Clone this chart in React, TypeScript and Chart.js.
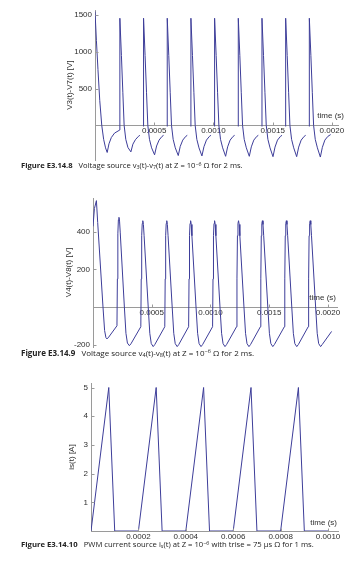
import React, { useEffect, useRef } from "react";
import { Chart, registerables } from "chart.js";
Chart.register(...registerables);

// ---------- Figure E3.14.8 : v3(t)-v7(t) ----------
const v37Time = [
  0, 0.000012, 0.000025, 0.00004, 0.000057, 0.000073, 0.000089, 0.000103, 0.000118, 0.000138, 0.000165, 0.00021,
  0.00021, 0.000223, 0.000235, 0.000246, 0.00026, 0.000278, 0.000303, 0.00032, 0.000341, 0.000366, 0.000379, 0.00038,
  0.00041, 0.00041, 0.000423, 0.000435, 0.000446, 0.00046, 0.000478, 0.000503, 0.00052, 0.000541, 0.000566, 0.000579, 0.00058,
  0.00061, 0.00061, 0.000623, 0.000635, 0.000646, 0.00066, 0.000678, 0.000703, 0.00072, 0.000741, 0.000766, 0.000779, 0.00078,
  0.00081, 0.00081, 0.000823, 0.000835, 0.000846, 0.00086, 0.000878, 0.000903, 0.00092, 0.000941, 0.000966, 0.000979, 0.00098,
  0.00101, 0.00101, 0.001023, 0.001035, 0.001046, 0.00106, 0.001078, 0.001103, 0.00112, 0.001141, 0.001166, 0.001179, 0.00118,
  0.00121, 0.00121, 0.001223, 0.001235, 0.001246, 0.00126, 0.001278, 0.001303, 0.00132, 0.001341, 0.001366, 0.001379, 0.00138,
  0.00141, 0.00141, 0.001423, 0.001435, 0.001446, 0.00146, 0.001478, 0.001503, 0.00152, 0.001541, 0.001566, 0.001579, 0.00158,
  0.00161, 0.00161, 0.001623, 0.001635, 0.001646, 0.00166, 0.001678, 0.001703, 0.00172, 0.001741, 0.001766, 0.001779, 0.00178,
  0.00181, 0.00181, 0.001823, 0.001835, 0.001846, 0.00186, 0.001878, 0.001903, 0.00192, 0.001941, 0.001966, 0.00199,
];
const v37Volt = [
  1547, 1150, 760, 340, 0, -190, -305, -368, -250, -165, -105, -62,
  1455, 950, 450, 0, -190, -300, -360, -255, -195, -150, -135, null,
  -15, 1455, 950, 450, 0, -190, -305, -400, -280, -200, -150, -135, null,
  -15, 1455, 950, 450, 0, -190, -305, -410, -285, -200, -150, -135, null,
  -15, 1455, 950, 450, 0, -190, -305, -415, -290, -200, -150, -135, null,
  -15, 1455, 950, 450, 0, -190, -305, -420, -292, -200, -150, -135, null,
  -15, 1455, 950, 450, 0, -190, -305, -420, -292, -200, -150, -135, null,
  -15, 1455, 950, 450, 0, -190, -305, -425, -295, -200, -150, -135, null,
  -15, 1455, 950, 450, 0, -190, -305, -425, -295, -200, -150, -135, null,
  -15, 1455, 950, 450, 0, -190, -305, -430, -298, -200, -150, -125,
];
const v37XTicks = [0.0005, 0.001, 0.0015, 0.002];
const v37YTicks = [500, 1000, 1500];

// ---------- Figure E3.14.9 : v4(t)-v8(t) ----------
const v48Time = [
  0, 0.000012, 0.000029, 0.00004, 0.000085, 0.0000987, 0.00011, 0.000119, 0.000134,
  0.000204, 0.0002075, 0.0002115, 0.000216, 0.000221, 0.000226, 0.000232, 0.000267, 0.0002805, 0.000293, 0.0003095, 0.000323,
  0.000407, 0.0004105, 0.0004145, 0.000419, 0.000424, 0.000429, 0.000435, 0.00047, 0.0004835, 0.000496, 0.0005125, 0.000526,
  0.000611, 0.0006145, 0.0006185, 0.000623, 0.000628, 0.000633, 0.000639, 0.000674, 0.0006875, 0.0007, 0.0007165, 0.00073,
  0.000814, 0.0008175, 0.0008215, 0.000826, 0.000831, 0.000836, 0.000842, 0.000877, 0.0008905, 0.000903, 0.0009195, 0.000933,
  0.001018, 0.0010215, 0.0010255, 0.00103, 0.001035, 0.00104, 0.001046, 0.001081, 0.0010945, 0.001107, 0.0011235, 0.001137,
  0.001222, 0.0012255, 0.0012295, 0.001234, 0.001239, 0.001244, 0.00125, 0.001285, 0.0012985, 0.001311, 0.0013275, 0.001341,
  0.001425, 0.0014285, 0.0014325, 0.001437, 0.001442, 0.001447, 0.001453, 0.001488, 0.0015015, 0.001514, 0.0015305, 0.001544,
  0.001629, 0.0016325, 0.0016365, 0.001641, 0.001646, 0.001651, 0.001657, 0.001692, 0.0017055, 0.001718, 0.0017345, 0.001748,
  0.001832, 0.0018355, 0.0018395, 0.001844, 0.001849, 0.001854, 0.00186, 0.001895, 0.0019085, 0.001921, 0.0019375, 0.001951,
  0.002031,
];
const v48Volt = [
  430, 525, 567, 450, 0, -125, -163, -170, -160,
  -100, 150, 390, 465, 478, 458, 395, 0, -140, -192, -206, -196,
  -105, 150, 380, 445, 460, 440, 380, 0, -140, -195, -211, -200,
  -105, 150, 380, 445, 460, 440, 380, 0, -140, -195, -211, -200,
  -105, 150, 380, 445, 460, 440, 380, 0, -140, -195, -211, -200,
  -105, 150, 380, 445, 460, 440, 380, 0, -140, -195, -211, -200,
  -105, 150, 380, 445, 460, 440, 380, 0, -140, -195, -211, -200,
  -105, 150, 380, 445, 460, 440, 380, 0, -140, -195, -211, -200,
  -105, 150, 380, 445, 460, 440, 380, 0, -140, -195, -211, -200,
  -105, 150, 380, 445, 460, 440, 380, 0, -140, -195, -211, -200,
  -130,
];
const v48XTicks = [0.0005, 0.001, 0.0015, 0.002];
const v48YTicks = [-200, 200, 400];

// ---------- Figure E3.14.10 : is(t) ----------
const isTime = [
  0, 0.000075, 0.0001, 0.0002, 0.000275, 0.0003, 0.0004, 0.000475, 0.0005,
  0.0006, 0.000675, 0.0007, 0.0008, 0.000875, 0.0009, 0.001,
];
const isAmp = [0, 5, 0, 0, 5, 0, 0, 5, 0, 0, 5, 0, 0, 5, 0, 0];
const isXTicks = [0.0002, 0.0004, 0.0006, 0.0008, 0.001];
const isYTicks = [1, 2, 3, 4, 5];

const LINE = "#3d3d99";
const AXIS = "#9a9a9a";
const TXT = "#2e2e2e";
const FONT = '"Liberation Sans", Arial, sans-serif';

const notePlugin = {
  id: "axisNote",
  afterDraw(chart: any, _args: any, opts: any) {
    const { ctx, chartArea, scales } = chart;
    const y0 = Math.round(scales.y.getPixelForValue(0)) + 0.5;
    const x0 = Math.round(chartArea.left) + 0.5;
    ctx.save();
    // inward tick marks, Mathematica style
    ctx.strokeStyle = AXIS;
    ctx.lineWidth = 1;
    ctx.beginPath();
    scales.x.ticks.forEach((t: any) => {
      const px = Math.round(scales.x.getPixelForValue(t.value)) + 0.5;
      ctx.moveTo(px, y0);
      ctx.lineTo(px, y0 - 3);
    });
    scales.y.ticks.forEach((t: any) => {
      const py = Math.round(scales.y.getPixelForValue(t.value)) + 0.5;
      ctx.moveTo(x0, py);
      ctx.lineTo(x0 + 3, py);
    });
    ctx.stroke();
    ctx.font = `8px ${FONT}`;
    ctx.fillStyle = TXT;
    ctx.textAlign = "right";
    ctx.textBaseline = "middle";
    ctx.fillText(opts.text, chartArea.right + opts.dx, y0 - opts.dy);
    ctx.restore();
  },
};

function makeConfig(p: any) {
  const pts = p.times.map((t: number, i: number) => ({ x: t, y: p.values[i] }));
  return {
    type: "line",
    data: {
      datasets: [
        {
          data: pts,
          borderColor: LINE,
          borderWidth: 1,
          pointRadius: 0,
          tension: 0,
          fill: false,
          spanGaps: false,
        },
      ],
    },
    options: {
      responsive: false,
      animation: false,
      events: [],
      layout: { padding: p.padding },
      plugins: {
        legend: { display: false },
        tooltip: { enabled: false },
        axisNote: { text: "time (s)", dx: p.noteDx, dy: p.noteDy },
      },
      scales: {
        x: {
          type: "linear",
          min: 0,
          max: p.xMax,
          position: { y: 0 },
          grid: { display: true, drawOnChartArea: false, drawTicks: false },
          border: { display: true, color: AXIS, width: 1 },
          ticks: {
            font: { family: FONT, size: 8 },
            color: TXT,
            padding: 1,
            autoSkip: false,
            maxRotation: 0,
            includeBounds: false,
            callback: (v: any) => Number(v).toFixed(4),
          },
          afterBuildTicks: (s: any) => {
            s.ticks = p.xTicks.map((v: number) => ({ value: v }));
          },
        },
        y: {
          type: "linear",
          min: p.yMin,
          max: p.yMax,
          position: "left",
          grid: { display: true, drawOnChartArea: false, drawTicks: false },
          border: { display: true, color: AXIS, width: 1 },
          ticks: {
            font: { family: FONT, size: 8 },
            color: TXT,
            padding: 3,
            autoSkip: false,
            includeBounds: false,
            callback: (v: any) => String(v),
          },
          title: {
            display: true,
            text: p.yTitle,
            font: { family: FONT, size: 8 },
            color: TXT,
            padding: { top: p.titlePad, bottom: 0 },
          },
          afterBuildTicks: (s: any) => {
            s.ticks = p.yTicks.map((v: number) => ({ value: v }));
          },
          afterFit: (s: any) => {
            s.width = p.axisLeft;
          },
        },
      },
    },
    plugins: [notePlugin],
  };
}

function Plot({ top, height, params }: any) {
  const ref = useRef<HTMLCanvasElement | null>(null);
  useEffect(() => {
    const chart = new Chart(ref.current as any, makeConfig(params) as any);
    return () => chart.destroy();
  }, []);
  return (
    <canvas
      ref={ref}
      width={353}
      height={height}
      style={{ position: "absolute", left: 0, top, width: 353, height }}
    />
  );
}

const capBase: any = {
  position: "absolute",
  left: 21,
  fontFamily: '"Open Sans", sans-serif',
  lineHeight: "10px",
  color: "#222",
  whiteSpace: "nowrap",
};
const subS: any = { fontSize: "70%", verticalAlign: "-0.25em", lineHeight: 0 };
const supS: any = { fontSize: "70%", verticalAlign: "0.45em", lineHeight: 0 };
const bold: any = { fontWeight: 700, marginRight: 4 };

export default function App() {
  return (
    <div style={{ position: "absolute", left: 0, top: 0, width: 353, height: 563, background: "#fff", overflow: "hidden" }}>
      <Plot
        top={0}
        height={168}
        params={{
          times: v37Time, values: v37Volt, xTicks: v37XTicks, yTicks: v37YTicks,
          xMax: 0.002052, yMin: -473, yMax: 1567, yTitle: "V3(t)-V7(t) [V]", titlePad: 65,
          axisLeft: 95, padding: { left: 0, right: 15, top: 10, bottom: 5 }, noteDx: 6, noteDy: 10,
        }}
      />
      <Plot
        top={185}
        height={170}
        params={{
          times: v48Time, values: v48Volt, xTicks: v48XTicks, yTicks: v48YTicks,
          xMax: 0.002077, yMin: -213, yMax: 581, yTitle: "V4(t)-V8(t) [V]", titlePad: 63.5,
          axisLeft: 93, padding: { left: 0, right: 16, top: 13, bottom: 8 }, noteDx: -1, noteDy: 10,
        }}
      />
      <Plot
        top={370}
        height={175}
        params={{
          times: isTime, values: isAmp, xTicks: isXTicks, yTicks: isYTicks,
          xMax: 0.001042, yMin: 0, yMax: 5.157, yTitle: "is(t) [A]", titlePad: 67,
          axisLeft: 91, padding: { left: 0, right: 15, top: 13, bottom: 14 }, noteDx: -1, noteDy: 9,
        }}
      />
      <div style={{ ...capBase, top: 160, fontSize: 7.6 }}>
        <span style={bold}>Figure E3.14.8</span> Voltage source v<span style={subS}>3</span>(t)-v
        <span style={subS}>7</span>(t) at Z = 10<span style={supS}>−6</span> Ω for 2 ms.
      </div>
      <div style={{ ...capBase, top: 348, fontSize: 8 }}>
        <span style={bold}>Figure E3.14.9</span> Voltage source v<span style={subS}>4</span>(t)-v
        <span style={subS}>8</span>(t) at Z = 10<span style={supS}>−6</span> Ω for 2 ms.
      </div>
      <div style={{ ...capBase, top: 539, fontSize: 7.7 }}>
        <span style={bold}>Figure E3.14.10</span> PWM current source i<span style={subS}>s</span>(t) at Z = 10
        <span style={supS}>−6</span> with trise = 75 µs Ω for 1 ms.
      </div>
    </div>
  );
}
